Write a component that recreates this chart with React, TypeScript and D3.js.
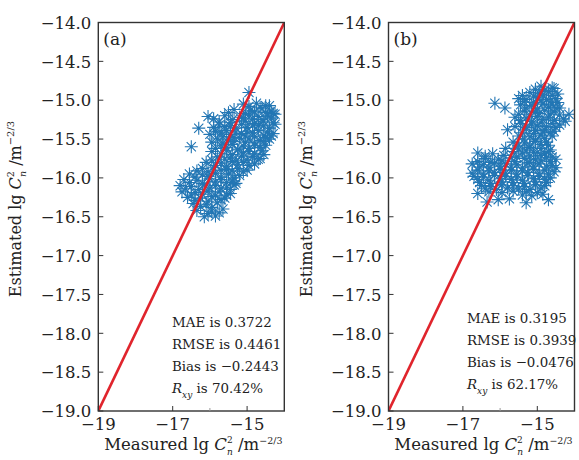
import React from 'react';
import * as d3 from 'd3';

const pointsA: [number, number][] = [
  [-14.95, -14.9],
  [-15.1, -15.05], [-14.75, -15.04], [-14.5, -15.07],
  [-15.35, -15.12], [-14.9, -15.13], [-14.6, -15.11], [-14.35, -15.14],
  [-16.05, -15.21], [-15.6, -15.2], [-15.2, -15.22], [-14.95, -15.19], [-14.7, -15.21], [-14.45, -15.2], [-14.25, -15.18],
  [-15.75, -15.28], [-15.45, -15.29], [-15.05, -15.27], [-14.8, -15.3], [-14.55, -15.27], [-14.3, -15.29],
  [-16.3, -15.36], [-15.9, -15.35], [-15.6, -15.34], [-15.3, -15.36], [-15.0, -15.35], [-14.7, -15.33], [-14.4, -15.36],
  [-16.0, -15.44], [-15.7, -15.42], [-15.45, -15.44], [-15.15, -15.43], [-14.85, -15.42], [-14.55, -15.45], [-14.3, -15.43],
  [-15.8, -15.5], [-15.5, -15.51], [-15.2, -15.49], [-14.95, -15.5], [-14.65, -15.52], [-14.4, -15.5],
  [-16.5, -15.6], [-15.7, -15.58], [-15.4, -15.57], [-15.1, -15.59], [-14.8, -15.58], [-14.5, -15.58],
  [-15.95, -15.66], [-15.55, -15.65], [-15.25, -15.64], [-14.95, -15.66], [-14.6, -15.65],
  [-15.8, -15.73], [-15.45, -15.74], [-15.15, -15.72], [-14.85, -15.73], [-14.65, -15.75],
  [-16.1, -15.8], [-15.7, -15.81], [-15.4, -15.79], [-15.1, -15.8], [-14.8, -15.82],
  [-16.2, -15.88], [-15.9, -15.87], [-15.55, -15.89], [-15.25, -15.88], [-15.0, -15.9],
  [-16.55, -15.95], [-16.2, -15.96], [-15.85, -15.94], [-15.5, -15.95], [-15.2, -15.97],
  [-16.7, -16.02], [-16.35, -16.03], [-16.0, -16.01], [-15.7, -16.02], [-15.4, -16.04],
  [-16.8, -16.1], [-16.5, -16.11], [-16.15, -16.09], [-15.85, -16.1], [-15.55, -16.12], [-15.35, -16.09],
  [-16.75, -16.18], [-16.4, -16.19], [-16.05, -16.17], [-15.75, -16.18], [-15.45, -16.2],
  [-16.6, -16.25], [-16.25, -16.26], [-15.95, -16.24], [-15.6, -16.26],
  [-16.45, -16.33], [-16.1, -16.34], [-15.8, -16.32],
  [-16.35, -16.42], [-15.95, -16.43], [-15.65, -16.4],
  [-16.15, -16.5], [-15.85, -16.49],
];

// denser core of cloud (a)
const pointsA2: [number, number][] = [
  [-14.95, -15.08], [-14.65, -15.09], [-14.4, -15.07],
  [-15.5, -15.16], [-15.05, -15.17], [-14.8, -15.15], [-14.5, -15.16], [-14.3, -15.17],
  [-15.9, -15.24], [-15.4, -15.25], [-15.1, -15.23], [-14.85, -15.24], [-14.6, -15.25], [-14.35, -15.23],
  [-15.75, -15.32], [-15.45, -15.33], [-15.15, -15.31], [-14.85, -15.32], [-14.55, -15.33], [-14.25, -15.31],
  [-15.85, -15.4], [-15.55, -15.39], [-15.3, -15.41], [-15.0, -15.4], [-14.7, -15.39], [-14.45, -15.41],
  [-15.65, -15.47], [-15.35, -15.48], [-15.05, -15.46], [-14.8, -15.47], [-14.5, -15.48], [-14.35, -15.46],
  [-15.95, -15.54], [-15.65, -15.55], [-15.35, -15.53], [-15.05, -15.54], [-14.8, -15.55], [-14.55, -15.53],
  [-15.85, -15.62], [-15.55, -15.61], [-15.25, -15.63], [-14.95, -15.62], [-14.65, -15.61],
  [-15.7, -15.69], [-15.4, -15.7], [-15.1, -15.68], [-14.8, -15.69], [-14.55, -15.7],
  [-15.95, -15.77], [-15.6, -15.76], [-15.3, -15.78], [-15.0, -15.77], [-14.7, -15.76],
  [-15.85, -15.84], [-15.55, -15.85], [-15.25, -15.83], [-14.95, -15.84],
  [-16.35, -15.91], [-16.05, -15.92], [-15.7, -15.9], [-15.4, -15.91], [-15.1, -15.92],
  [-16.4, -15.99], [-16.05, -15.98], [-15.7, -15.99], [-15.35, -16.0],
  [-16.55, -16.06], [-16.2, -16.07], [-15.85, -16.05], [-15.55, -16.06], [-15.3, -16.07],
  [-16.65, -16.14], [-16.3, -16.15], [-16.0, -16.13], [-15.7, -16.14], [-15.45, -16.15],
  [-16.5, -16.22], [-16.2, -16.21], [-15.85, -16.23], [-15.55, -16.22],
  [-16.4, -16.29], [-16.05, -16.3], [-15.7, -16.28],
  [-16.25, -16.37], [-15.95, -16.38],
  [-16.05, -16.46], [-15.75, -16.45],
];

const pointsB: [number, number][] = [
  [-14.9, -14.82], [-14.6, -14.84],
  [-15.2, -14.9], [-14.95, -14.91], [-14.7, -14.89], [-14.45, -14.92],
  [-15.5, -14.98], [-15.3, -14.99], [-15.0, -14.97], [-14.75, -14.99], [-14.5, -14.98],
  [-16.14, -15.04],
  [-15.45, -15.06], [-15.15, -15.07], [-14.85, -15.05], [-14.6, -15.06],
  [-15.87, -15.1], [-14.4, -15.1],
  [-15.35, -15.14], [-15.05, -15.15], [-14.8, -15.13], [-14.55, -15.15], [-14.15, -15.18],
  [-15.6, -15.22], [-15.3, -15.23], [-15.0, -15.21], [-14.7, -15.22], [-14.3, -15.24],
  [-15.45, -15.3], [-15.15, -15.31], [-14.9, -15.29], [-14.6, -15.3], [-14.4, -15.32],
  [-15.8, -15.38], [-15.3, -15.37], [-15.05, -15.39], [-14.8, -15.38], [-14.55, -15.4],
  [-15.5, -15.46], [-15.2, -15.47], [-14.9, -15.45], [-14.6, -15.46],
  [-15.65, -15.54], [-15.35, -15.55], [-15.05, -15.53], [-14.75, -15.54],
  [-15.85, -15.62], [-15.5, -15.63], [-15.2, -15.61], [-14.9, -15.62], [-14.65, -15.64],
  [-16.6, -15.68], [-16.2, -15.69], [-15.4, -15.68], [-15.1, -15.67], [-14.8, -15.69],
  [-16.4, -15.75], [-16.05, -15.76], [-15.7, -15.74], [-15.35, -15.75], [-15.05, -15.76], [-14.75, -15.74], [-14.5, -15.76],
  [-16.75, -15.82], [-16.45, -15.83], [-16.15, -15.81], [-15.85, -15.82], [-15.55, -15.83], [-15.25, -15.81], [-14.95, -15.82], [-14.6, -15.84],
  [-16.6, -15.9], [-16.3, -15.91], [-16.0, -15.89], [-15.7, -15.9], [-15.4, -15.91], [-15.1, -15.89], [-14.8, -15.9], [-14.55, -15.92],
  [-16.7, -15.98], [-16.45, -15.99], [-16.15, -15.97], [-15.85, -15.98], [-15.55, -15.99], [-15.25, -15.97], [-14.95, -15.98], [-14.65, -16.0],
  [-16.55, -16.06], [-16.25, -16.07], [-15.95, -16.05], [-15.65, -16.06], [-15.35, -16.07], [-15.05, -16.05], [-14.75, -16.06],
  [-16.4, -16.14], [-16.1, -16.15], [-15.8, -16.13], [-15.5, -16.14], [-15.2, -16.15], [-14.9, -16.13],
  [-16.6, -16.2], [-15.4, -16.22], [-15.15, -16.23], [-14.85, -16.21],
  [-16.05, -16.28], [-15.75, -16.27], [-14.7, -16.28],
  [-16.35, -16.31], [-15.3, -16.32],
];

// denser core of cloud (b)
const pointsB2: [number, number][] = [
  [-15.05, -14.86], [-14.8, -14.87], [-14.55, -14.85],
  [-15.4, -14.94], [-15.1, -14.95], [-14.85, -14.93], [-14.6, -14.94],
  [-15.35, -15.02], [-15.1, -15.03], [-14.9, -15.01], [-14.65, -15.02], [-14.45, -15.03],
  [-15.3, -15.1], [-15.0, -15.11], [-14.7, -15.09], [-14.5, -15.1],
  [-15.5, -15.18], [-15.2, -15.19], [-14.95, -15.17], [-14.65, -15.18], [-14.4, -15.19],
  [-15.45, -15.26], [-15.15, -15.27], [-14.85, -15.25], [-14.55, -15.26], [-14.25, -15.27],
  [-15.6, -15.34], [-15.3, -15.35], [-15.0, -15.33], [-14.75, -15.34], [-14.5, -15.35],
  [-15.4, -15.42], [-15.1, -15.43], [-14.85, -15.41], [-14.65, -15.42],
  [-15.35, -15.5], [-15.05, -15.51], [-14.8, -15.49],
  [-15.5, -15.58], [-15.2, -15.59], [-14.9, -15.57], [-14.7, -15.58],
  [-15.65, -15.66], [-15.3, -15.65], [-15.0, -15.67], [-14.7, -15.66],
  [-16.4, -15.72], [-15.9, -15.71], [-15.55, -15.73], [-15.2, -15.72], [-14.9, -15.71], [-14.6, -15.73],
  [-16.6, -15.79], [-16.25, -15.8], [-15.95, -15.78], [-15.6, -15.79], [-15.2, -15.8], [-14.9, -15.78], [-14.65, -15.79],
  [-16.55, -15.86], [-16.3, -15.87], [-16.0, -15.85], [-15.7, -15.86], [-15.4, -15.87], [-15.1, -15.85], [-14.75, -15.86], [-14.5, -15.87],
  [-16.75, -15.94], [-16.45, -15.95], [-16.15, -15.93], [-15.85, -15.94], [-15.55, -15.95], [-15.25, -15.93], [-14.95, -15.94], [-14.7, -15.95],
  [-16.6, -16.02], [-16.3, -16.03], [-16.0, -16.01], [-15.7, -16.02], [-15.4, -16.03], [-15.1, -16.01], [-14.8, -16.02],
  [-16.5, -16.1], [-16.25, -16.11], [-15.95, -16.09], [-15.65, -16.1], [-15.35, -16.11], [-15.05, -16.09], [-14.8, -16.1],
  [-16.3, -16.18], [-15.95, -16.19], [-15.65, -16.17], [-15.3, -16.18], [-15.0, -16.19],
];

const statsA = ['0.3722', '0.4461', '−0.2443', '70.42%'];
const statsB = ['0.3195', '0.3939', '−0.0476', '62.17%'];

const yTicks = d3.range(-19, -13.99, 0.5);
const xTickLabels = [-19, -17, -15];
const xMinorTicks = [-16];

const FONT = '"DejaVu Serif", serif';
const BLUE = '#2276b4';
const RED = '#e0242c';
const AXIS = '#333';

const star = (r: number) => {
  const k = r * 0.7071;
  return `M${-r},0H${r}M0,${-r}V${r}M${-k},${-k}L${k},${k}M${-k},${k}L${k},${-k}`;
};

const fmtY = (v: number) => '−' + Math.abs(v).toFixed(1);
const fmtX = (v: number) => '−' + Math.abs(v);

function Panel({ points, label, stats, left, statsX, statsY, id }: any) {
  const top = 22.5;
  const bottom = 411;
  const width = 186;
  const x = d3.scaleLinear().domain([-19, -14]).range([left, left + width]);
  const y = d3.scaleLinear().domain([-19, -14]).range([bottom, top]);
  const line = d3.line<[number, number]>().x(d => x(d[0])).y(d => y(d[1]));
  const midY = 209;
  const lines = ['MAE is ', 'RMSE is ', 'Bias is '];

  return (
    <g fontFamily={FONT} fill="#222">
      <defs>
        <clipPath id={id}>
          <rect x={left} y={top} width={width} height={bottom - top} />
        </clipPath>
      </defs>

      <g clipPath={`url(#${id})`}>
        {points.map((d: [number, number], i: number) => (
          <path key={i} d={star(6.5)} transform={`translate(${x(d[0])},${y(d[1])})`}
            stroke={BLUE} strokeWidth={1.1} fill="none" />
        ))}
        <path d={line([[-19, -19], [-14, -14]]) || ''} stroke={RED} strokeWidth={2.6} fill="none" />
      </g>

      <rect x={left} y={top} width={width} height={bottom - top} fill="none" stroke={AXIS} strokeWidth={1.4} />

      {yTicks.map(t => (
        <g key={t}>
          <line x1={left} x2={left + 5} y1={y(t)} y2={y(t)} stroke={AXIS} strokeWidth={1} />
          <text x={left - 7} y={y(t)} dy="0.38em" textAnchor="end" fontSize={16.5}>{fmtY(t)}</text>
        </g>
      ))}
      {xTickLabels.map(t => (
        <g key={t}>
          <line x1={x(t)} x2={x(t)} y1={bottom} y2={bottom - 5} stroke={AXIS} strokeWidth={1} />
          <text x={x(t)} y={430} textAnchor="middle" fontSize={16.5}>{fmtX(t)}</text>
        </g>
      ))}
      {xMinorTicks.map(t => (
        <line key={t} x1={x(t)} x2={x(t)} y1={bottom} y2={bottom - 3} stroke="#999" strokeWidth={1} />
      ))}

      <text x={left + 5} y={45} fontSize={17}>{label}</text>

      {lines.map((s, i) => (
        <text key={s} x={statsX} y={statsY + i * 22} fontSize={13.4}>{s + stats[i]}</text>
      ))}
      <text x={statsX} y={statsY + 3 * 22} fontSize={13.4}>
        <tspan fontStyle="italic">R</tspan>
        <tspan fontSize={9} fontStyle="italic" dy={5}>xy</tspan>
        <tspan dy={-5}>{' is ' + stats[3]}</tspan>
      </text>

      <text transform={`translate(${left - 77},${midY}) rotate(-90)`} textAnchor="middle" fontSize={16}>
        Estimated lg <tspan fontStyle="italic">C</tspan>
        <tspan fontSize={9.5} dy={-7}>2</tspan>
        <tspan fontSize={9.5} fontStyle="italic" dx={-6} dy={12}>n</tspan>
        <tspan dy={-5}>{' /m'}</tspan>
        <tspan fontSize={10} dy={-7}>−2/3</tspan>
      </text>

      <text x={left + width / 2 + 2} y={450} textAnchor="middle" fontSize={16.5}>
        Measured lg <tspan fontStyle="italic">C</tspan>
        <tspan fontSize={9} dy={-7}>2</tspan>
        <tspan fontSize={9} fontStyle="italic" dx={-5.7} dy={12}>n</tspan>
        <tspan dy={-5}>{' /m'}</tspan>
        <tspan fontSize={9.5} dy={-6}>−2/3</tspan>
      </text>
    </g>
  );
}

export default function App() {
  return (
    <svg width={579} height={460} style={{ position: 'absolute', left: 0, top: 0, background: '#fff' }}>
      <Panel id="clipA" points={[...pointsA, ...pointsA2]} label="(a)" stats={statsA} left={98.3} statsX={172} statsY={327} />
      <Panel id="clipB" points={[...pointsB, ...pointsB2]} label="(b)" stats={statsB} left={388.5} statsX={467} statsY={323} />
    </svg>
  );
}
